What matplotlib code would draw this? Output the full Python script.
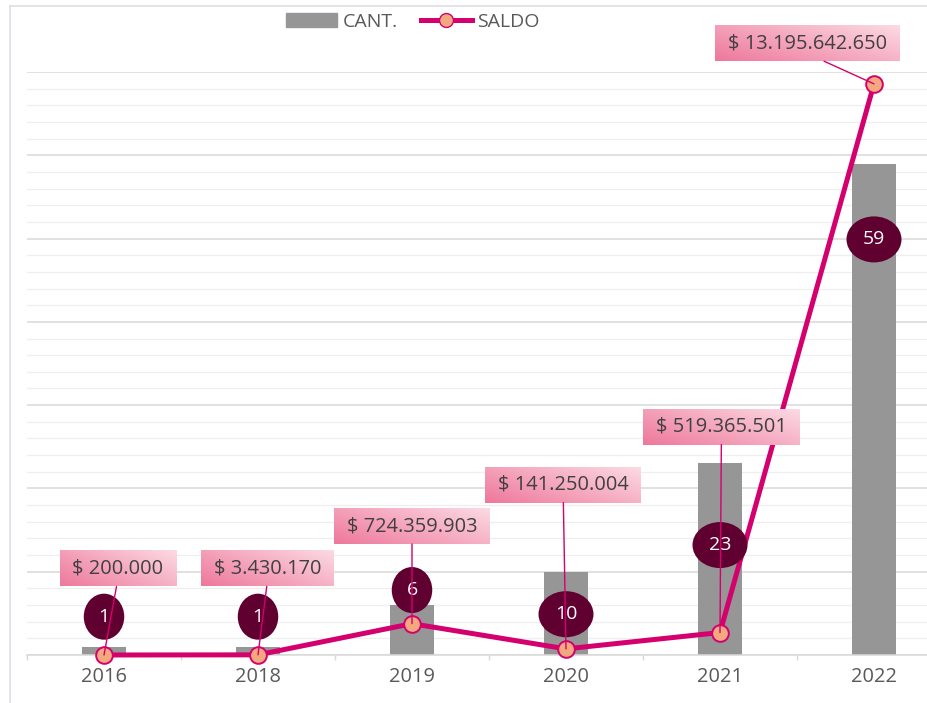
import numpy as np
import matplotlib
matplotlib.use("Agg")
import matplotlib.pyplot as plt
from matplotlib.patches import Patch, Ellipse
from matplotlib.lines import Line2D
from matplotlib.transforms import ScaledTranslation

plt.rcParams['font.family'] = ['Open Sans', 'DejaVu Sans']

years = ['2016', '2018', '2019', '2020', '2021', '2022']
cant = [1, 1, 6, 10, 23, 59]
saldo = [200000, 3430170, 724359903, 141250004, 519365501, 13195642650]

# label layout (count-axis height of the dark ellipses, offsets of the money boxes in points)
cant_lab_y = [4.6, 4.6, 7.8, 4.9, 13.2, 49.9]
saldo_off = [(10, 62), (7, 62), (0, 70), (-2, 118), (1, 148), (-48, 29)]

gray = '#969696'
mag = '#d4006e'
dark = '#600030'
txt = '#595959'

fig = plt.figure(figsize=(9.27, 7.03), dpi=100)
ax = fig.add_axes([27/927, 48/703, 924/927, 583/703])
x = np.arange(len(years))

ax.bar(x, cant, width=0.28, color=gray, zorder=2)
ax.set_xlim(-0.5, len(years) - 0.5)
ax.set_ylim(0, 70)
ax.set_yticks(np.arange(0, 71, 10))
ax.set_yticks(np.arange(0, 71, 2), minor=True)
ax.set_axisbelow(True)
ax.grid(which='major', axis='y', color='#d9d9d9', lw=1.1)
ax.grid(which='minor', axis='y', color='#efefef', lw=0.9)
ax.tick_params(axis='y', which='both', length=0, labelleft=False)
ax.set_xticks(x)
ax.set_xticklabels(years)
ax.set_xticks(np.arange(-0.5, len(years), 1), minor=True)
ax.tick_params(axis='x', which='major', length=0, pad=9, labelsize=14.4, labelcolor=txt)
ax.tick_params(axis='x', which='minor', length=3.6, width=1, color='#d9d9d9')
for s in ['top', 'left', 'right']:
    ax.spines[s].set_visible(False)
ax.spines['bottom'].set_color('#d9d9d9')
ax.spines['bottom'].set_linewidth(1.1)

ax2 = ax.twinx()
ax2.plot(x, saldo, color=mag, lw=3.6, marker='o', ms=12, mfc='#f4a880',
         mec=mag, mew=1.4, zorder=3, clip_on=False)
ax2.set_ylim(0, 13.47e9)
ax2.set_yticks([])
for s in ax2.spines.values():
    s.set_visible(False)

# dark ellipses with the counts
for i, c in enumerate(cant):
    w = 0.26 + 0.145 * len(str(c))
    tr = fig.dpi_scale_trans + ScaledTranslation(i, cant_lab_y[i], ax.transData)
    ax2.add_patch(Ellipse((0, 0), w, 0.46, transform=tr, fc=dark, ec='none', zorder=5, clip_on=False))
    ax2.text(i, cant_lab_y[i], str(c), transform=ax.transData, ha='center', va='center',
             color='white', fontsize=14, zorder=5.5)

# money labels
anns = []
for i, v in enumerate(saldo):
    lab = '$ ' + f'{v:,}'.replace(',', '.')
    a = ax2.annotate(lab, xy=(i, v), xytext=saldo_off[i], textcoords='offset points',
                     ha='center', va='center', fontsize=14.4, color='#404040',
                     bbox=dict(boxstyle='square,pad=0.38', fc='none', ec='none'),
                     arrowprops=dict(arrowstyle='-', color=mag, lw=1, shrinkA=0, shrinkB=0,
                                     relpos=(0.5, 0)),
                     zorder=7, annotation_clip=False)
    anns.append(a)

fig.canvas.draw()
r = fig.canvas.get_renderer()
H, W = 40, 120
ii, jj = np.mgrid[0:H, 0:W]
s = (jj / (W - 1) * 0.6 + (1 - ii / (H - 1)) * 0.4)[..., None]
c0 = np.array([238, 120, 155]) / 255
c1 = np.array([252, 218, 228]) / 255
grad = c0 + (c1 - c0) * s
inv = ax2.transData.inverted()
for a in anns:
    bb = a.get_bbox_patch().get_window_extent(r)
    ex = 5
    x0, y0 = inv.transform((bb.x0 - ex, bb.y0))
    x1, y1 = inv.transform((bb.x1 + ex, bb.y1))
    ax2.imshow(grad, extent=[x0, x1, y0, y1], aspect='auto', zorder=6,
               clip_on=False, interpolation='bilinear')
ax.set_xlim(-0.5, len(years) - 0.5)
ax2.set_ylim(0, 13.47e9)

handles = [Patch(color=gray),
           Line2D([], [], color=mag, lw=3.6, marker='o', ms=10, mfc='#f4a880', mec=mag)]
fig.legend(handles, ['CANT.', 'SALDO'], loc='center', bbox_to_anchor=(0.4455, 0.969),
           ncol=2, frameon=False, fontsize=14, handlelength=2.6, handletextpad=0.3,
           columnspacing=1.2, labelcolor=txt)

# chart area border
fig.add_artist(Line2D([9.5/927, 9.5/927], [0, 1 - 6/703], color='#e3dce7', lw=1.2))
fig.add_artist(Line2D([9.5/927, 1], [1 - 6/703, 1 - 6/703], color='#e3dce7', lw=1.2))

fig.savefig('out.png', dpi=100)
